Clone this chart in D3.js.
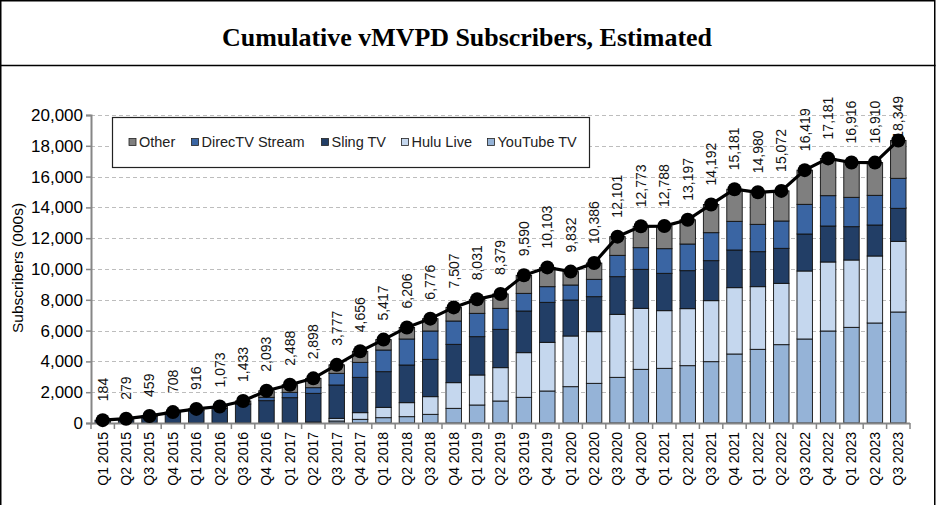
<!DOCTYPE html>
<html>
<head>
<meta charset="utf-8">
<script src="https://cdn.jsdelivr.net/npm/d3@7"></script>
<style>
  body { margin: 0; background: #fff; }
  svg { display: block; }
  text { font-family: Arial, "Liberation Sans", sans-serif; }
</style>
</head>
<body>
<svg id="chart" width="937" height="505"></svg>
<script>
const categories = ["Q1 2015","Q2 2015","Q3 2015","Q4 2015","Q1 2016","Q2 2016","Q3 2016","Q4 2016",
  "Q1 2017","Q2 2017","Q3 2017","Q4 2017","Q1 2018","Q2 2018","Q3 2018","Q4 2018",
  "Q1 2019","Q2 2019","Q3 2019","Q4 2019","Q1 2020","Q2 2020","Q3 2020","Q4 2020",
  "Q1 2021","Q2 2021","Q3 2021","Q4 2021","Q1 2022","Q2 2022","Q3 2022","Q4 2022",
  "Q1 2023","Q2 2023","Q3 2023"];
const youtubeTV = [0,0,0,0,0,0,0,0, 0,30,130,238,346,411,563,952, 1169,1429,1667,2078,2359,2576,2965,3485,
  3550,3723,3983,4481,4784,5087,5455,5974, 6212,6494,7208];
const huluLive = [0,0,0,0,0,0,0,0, 0,30,173,433,671,909,1147,1667, 1948,2164,2900,3160,3290,3355,4091,3961,
  3744,3701,3961,4307,4069,3982,4415,4481, 4372,4350,4589];
const slingTV = [184,279,429,658,816,943,1233,1450, 1645,1866,2165,2294,2316,2446,2424,2489, 2489,2489,2706,2597,2338,2272,2446,2532,
  2425,2468,2597,2446,2272,2273,2403,2337, 2165,2013,2143];
const directvStream = [0,0,0,0,0,0,0,217, 346,368,757,974,1407,1689,1840,1515, 1515,1364,1147,1018,974,1126,1385,1407,
  1601,1731,1818,1861,1775,1775,1926,1970, 1905,1927,1948];
const other = [0,0,30,50,100,130,200,426, 497,604,552,717,677,751,802,884, 910,933,1170,1250,871,1057,1214,1388,
  1468,1574,1833,2086,2080,1955,2220,2419, 2262,2126,2461];
const totals = [184,279,459,708,916,1073,1433,2093,2488,2898,3777,4656,5417,6206,6776,7507,8031,8379,9590,10103,
  9832,10386,12101,12773,12788,13197,14192,15181,14980,15072,16419,17181,16916,16910,18349];
const yTicks = [0,2000,4000,6000,8000,10000,12000,14000,16000,18000,20000];
const seriesNames = ["YouTube TV","Hulu Live","Sling TV","DirecTV Stream","Other"];
const legendOrder = ["Other","DirecTV Stream","Sling TV","Hulu Live","YouTube TV"];
const colors = {"YouTube TV":"#95B3D7","Hulu Live":"#C5D7EE","Sling TV":"#223E66","DirecTV Stream":"#3A65A3","Other":"#7F7F7F"};

const seriesData = {"YouTube TV":youtubeTV,"Hulu Live":huluLive,"Sling TV":slingTV,"DirecTV Stream":directvStream,"Other":other};
const rows = categories.map((c,i) => {
  const r = {cat:c};
  seriesNames.forEach(s => r[s] = seriesData[s][i]);
  return r;
});

const svg = d3.select("#chart");
const W = 937, H = 505;

// frame
svg.append("rect").attr("x",0.75).attr("y",0.75).attr("width",934).attr("height",H+5)
  .attr("fill","none").attr("stroke","#000").attr("stroke-width",1.5);
svg.append("line").attr("x1",0).attr("x2",935.5).attr("y1",65.5).attr("y2",65.5)
  .attr("stroke","#000").attr("stroke-width",1.5);

// title
svg.append("text").attr("x",467).attr("y",46).attr("text-anchor","middle")
  .style("font-family","'Liberation Serif', 'DejaVu Serif', serif").style("font-weight","bold")
  .style("font-size","25px").attr("textLength",490).attr("lengthAdjust","spacingAndGlyphs")
  .text("Cumulative vMVPD Subscribers, Estimated");

const x = d3.scaleBand().domain(categories).range([91,910]).paddingInner(0.34).paddingOuter(0.17);
const y = d3.scaleLinear().domain([0,20000]).range([423,115]);
const cx = c => x(c) + x.bandwidth()/2;

// gridlines
svg.append("g").selectAll("line").data(yTicks.filter(t=>t>0)).join("line")
  .attr("x1",91).attr("x2",910).attr("y1",d=>Math.round(y(d))+0.5).attr("y2",d=>Math.round(y(d))+0.5)
  .attr("stroke","#BDBDBD").attr("stroke-width",1).attr("stroke-dasharray","4,3");

// y axis
const yAxis = d3.axisLeft(y).tickValues(yTicks).tickFormat(d3.format(",")).tickSize(5).tickPadding(3);
const gy = svg.append("g").attr("transform","translate(91,0)").call(yAxis);
gy.select(".domain").attr("stroke","#868686").attr("stroke-width",2);
gy.selectAll(".tick line").attr("stroke","#868686").attr("stroke-width",1.5);
gy.selectAll(".tick text").style("font-size","17px").attr("fill","#000").style("font-family","Arial, 'Liberation Sans', sans-serif");

// y title
svg.append("text").attr("transform","translate(23,268) rotate(-90)").attr("text-anchor","middle")
  .style("font-size","15.5px").text("Subscribers (000s)");

// stacked bars
const stack = d3.stack().keys(seriesNames)(rows);
svg.append("g").selectAll("g").data(stack).join("g")
  .attr("fill", d => colors[d.key])
  .selectAll("rect").data(d => d.filter(p => p[1]-p[0] > 0)).join("rect")
  .attr("x", d => x(d.data.cat)).attr("width", x.bandwidth())
  .attr("y", d => y(d[1])).attr("height", d => y(d[0]) - y(d[1]))
  .attr("stroke","#111").attr("stroke-width",0.9);

// x axis
svg.append("line").attr("x1",91).attr("x2",910).attr("y1",423.5).attr("y2",423.5)
  .attr("stroke","#868686").attr("stroke-width",2);
const boundaries = categories.map(c => x(c) - x.step()*x.paddingInner()/2).concat([910]);
svg.append("g").selectAll("line").data(boundaries).join("line")
  .attr("x1",d=>d).attr("x2",d=>d).attr("y1",423).attr("y2",429)
  .attr("stroke","#868686").attr("stroke-width",1.5);
svg.append("g").selectAll("text").data(categories).join("text")
  .attr("transform", d => `translate(${cx(d)},432) rotate(-90)`)
  .attr("text-anchor","end").attr("dy","0.35em").style("font-size","14px").text(d => d);

// value labels
const fmt = d3.format(",");
const labels = svg.append("g").selectAll("text").data(categories).join("text")
  .attr("text-anchor","start").attr("dy","0.35em").style("font-size","14px").attr("fill","#111")
  .text((d,i) => fmt(totals[i]));
labels.each(function(d,i){
  const len = this.getComputedTextLength();
  let start = y(totals[i]) - 19;
  start = Math.max(start, 96 + len);
  d3.select(this).attr("transform", `translate(${cx(d)},${start}) rotate(-90)`);
});

// line + markers
const line = d3.line().x((d,i) => cx(categories[i])).y(d => y(d));
svg.append("path").datum(totals).attr("d", line).attr("fill","none")
  .attr("stroke","#000").attr("stroke-width",3.2);
svg.append("g").selectAll("circle").data(totals).join("circle")
  .attr("cx",(d,i)=>cx(categories[i])).attr("cy",d=>y(d)).attr("r",7).attr("fill","#000");

// legend
const lg = svg.append("g");
lg.append("rect").attr("x",112.5).attr("y",117.5).attr("width",477).attr("height",50)
  .attr("fill","#fff").attr("stroke","#222").attr("stroke-width",1.2);
const legendX = {"Other":129,"DirecTV Stream":191.5,"Sling TV":321.5,"Hulu Live":401.5,"YouTube TV":487.5};
legendOrder.forEach(k => {
  lg.append("rect").attr("x",legendX[k]).attr("y",138.5).attr("width",7).attr("height",7)
    .attr("fill",colors[k]).attr("stroke","#222").attr("stroke-width",0.8);
  lg.append("text").attr("x",legendX[k]+10).attr("y",142).attr("dy","0.35em")
    .style("font-size","14.5px").attr("fill","#222").text(k);
});
</script>
</body>
</html>
